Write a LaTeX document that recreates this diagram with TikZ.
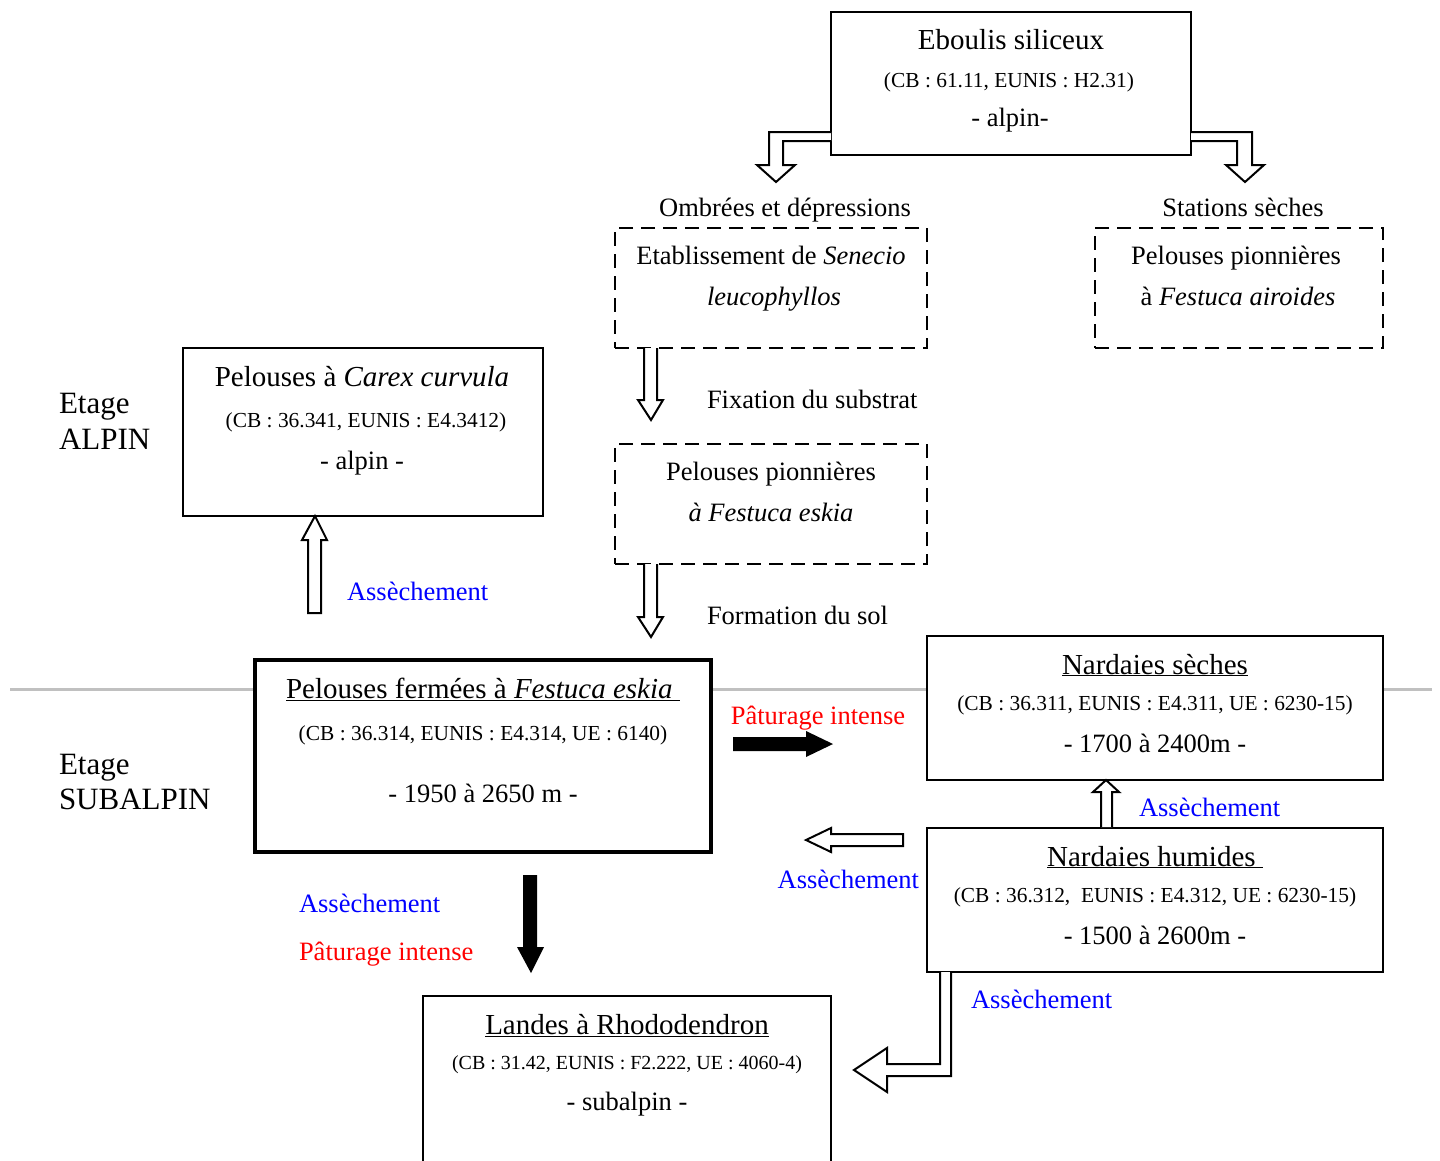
\documentclass[tikz,border=0pt]{standalone}
\usepackage{fontspec}
\setmainfont{Liberation Serif}
\newcommand{\ftitle}{\fontsize{29}{35}\selectfont}
\newcommand{\fbody}{\fontsize{26.5}{32}\selectfont}
\newcommand{\fsmall}{\fontsize{21.4}{26}\selectfont}
\newcommand{\fsmaller}{\fontsize{20}{24}\selectfont}
\newcommand{\fetage}{\fontsize{31}{37}\selectfont}
\definecolor{bleu}{RGB}{0,0,255}
\definecolor{rouge}{RGB}{255,0,0}
\definecolor{gris}{RGB}{192,192,192}
\begin{document}
\begin{tikzpicture}[x=1pt,y=-1pt,
  boxthin/.style={draw=black, line width=2pt, fill=white, inner sep=0pt, outer sep=0pt},
  boxthick/.style={draw=black, line width=4pt, fill=white, inner sep=0pt, outer sep=0pt},
  boxdash/.style={draw=black, line width=2.5pt, dash pattern=on 14pt off 8pt, inner sep=0pt, outer sep=0pt},
  txt/.style={inner sep=0pt, outer sep=0pt, anchor=base},
  hollow/.style={draw=black, line width=2pt, fill=white, line join=miter},
  solidarr/.style={fill=black, draw=none},
  lblue/.style={txt, text=bleu, font=\fbody},
  lred/.style={txt, text=rouge, font=\fbody}
]
\useasboundingbox (0,0) rectangle (1440,1160);
\clip (0,0) rectangle (1440,1160);

% grey separation line
\draw[gris, line width=3pt] (10,689) -- (1432,689);

% ---------- boxes ----------
\node[boxthin, minimum width=360pt, minimum height=143pt] (eb) at (1011,83.5) {};
\node[boxdash, minimum width=312pt, minimum height=120pt] (sen) at (771,288) {};
\node[boxdash, minimum width=288pt, minimum height=120pt] (air) at (1239,288) {};
\node[boxdash, minimum width=312pt, minimum height=120pt] (esk) at (771,504) {};
\node[boxthin, minimum width=360pt, minimum height=168pt] (car) at (363,432) {};
\node[boxthick, minimum width=456pt, minimum height=192pt] (pf) at (483,756) {};
\node[boxthin, minimum width=456pt, minimum height=144pt] (ns) at (1155,708) {};
\node[boxthin, minimum width=456pt, minimum height=144pt] (nh) at (1155,900) {};
\node[boxthin, minimum width=408pt, minimum height=200pt] (la) at (627,1096) {};

% ---------- texts in boxes ----------
\node[txt, font=\ftitle] (eb1) at (1011,49) {Eboulis siliceux};
\node[txt, font=\fsmall] (eb2) at (1009,87) {(CB : 61.11, EUNIS : H2.31)};
\node[txt, font=\fbody] (eb3) at (1010,126) {- alpin-};

\node[txt, font=\fbody] (sen1) at (771,264) {Etablissement de \textit{Senecio}};
\node[txt, font=\fbody] (sen2) at (774,305) {\textit{leucophyllos}};

\node[txt, font=\fbody] (air1) at (1236,264) {Pelouses pionnières};
\node[txt, font=\fbody] (air2) at (1238,305) {à \textit{Festuca airoides}};

\node[txt, font=\fbody] (esk1) at (771,480) {Pelouses pionnières};
\node[txt, font=\fbody] (esk2) at (771,521) {\textit{à Festuca eskia}};

\node[txt, font=\ftitle] (car1) at (362,386) {Pelouses à \textit{Carex curvula}};
\node[txt, font=\fsmall] (car2) at (366,427) {(CB : 36.341, EUNIS : E4.3412)};
\node[txt, font=\fbody] (car3) at (362,469) {- alpin -};

\node[txt, font=\ftitle] (pf1) at (483,698) {\underline{Pelouses fermées à \textit{Festuca eskia}\ }};
\node[txt, font=\fsmall] (pf2) at (483,740) {(CB : 36.314, EUNIS : E4.314, UE : 6140)};
\node[txt, font=\fbody] (pf3) at (483,802) {- 1950 à 2650 m -};

\node[txt, font=\ftitle] (ns1) at (1155,674) {\underline{Nardaies sèches}};
\node[txt, font=\fsmall] (ns2) at (1155,710) {(CB : 36.311, EUNIS : E4.311, UE : 6230-15)};
\node[txt, font=\fbody] (ns3) at (1155,752) {- 1700 à 2400m -};

\node[txt, font=\ftitle] (nh1) at (1155,866) {\underline{Nardaies humides\ }};
\node[txt, font=\fsmall] (nh2) at (1155,902) {(CB : 36.312,\ \ EUNIS : E4.312, UE : 6230-15)};
\node[txt, font=\fbody] (nh3) at (1155,944) {- 1500 à 2600m -};

\node[txt, font=\ftitle] (la1) at (627,1034) {\underline{Landes à Rhododendron}};
\node[txt, font=\fsmaller] (la2) at (627,1069) {(CB : 31.42, EUNIS : F2.222, UE : 4060-4)};
\node[txt, font=\fbody] (la3) at (627,1110) {- subalpin -};

% ---------- free labels ----------
\node[txt, font=\fbody] (omb) at (785,216) {Ombrées et dépressions};
\node[txt, font=\fbody] (sta) at (1243,216) {Stations sèches};
\node[txt, font=\fbody, anchor=base west] (fix) at (707,408) {Fixation du substrat};
\node[txt, font=\fbody, anchor=base west] (form) at (707,624) {Formation du sol};

\node[txt, font=\fetage, anchor=base west] (ea1) at (59,413) {Etage};
\node[txt, font=\fetage, anchor=base west] (ea2) at (59,449) {ALPIN};
\node[txt, font=\fetage, anchor=base west] (es1) at (59,774) {Etage};
\node[txt, font=\fetage, anchor=base west] (es2) at (59,809) {SUBALPIN};

\node[lblue, anchor=base west] (as1) at (347,600) {Assèchement};
\node[lred] (pa1) at (818,724) {Pâturage intense};
\node[lblue, anchor=base west] (as2) at (1139,816) {Assèchement};
\node[lblue, anchor=base east] (as3) at (919,888) {Assèchement};
\node[lblue, anchor=base west] (as4) at (299,912) {Assèchement};
\node[lred, anchor=base west] (pa2) at (299,960) {Pâturage intense};
\node[lblue, anchor=base west] (as5) at (971,1008) {Assèchement};

% ---------- block arrows ----------
% from Eboulis, left branch
\draw[hollow] (eb.west |- 0,132) -- (769,132) -- (769,165) -- (757,165) -- (776,182)
  -- (795,165) -- (783,165) -- (783,141) -- (eb.west |- 0,141);
% from Eboulis, right branch
\draw[hollow] (eb.east |- 0,132) -- (1252,132) -- (1252,165) -- (1264,165) -- (1245,182)
  -- (1226,165) -- (1237,165) -- (1237,141) -- (eb.east |- 0,141);
% Senecio -> Festuca eskia pionniere
\draw[hollow] (644,348) -- (644,400) -- (638,400) -- (651,420) -- (663,400) -- (657,400) -- (657,348);
% pionniere -> pelouses fermees
\draw[hollow] (644,564) -- (644,617) -- (638,617) -- (651,637) -- (663,617) -- (657,617) -- (657,564);
% pelouses fermees -> Carex (up)
\draw[hollow] (308,613) -- (308,540) -- (302,540) -- (315,516) -- (327,540) -- (321,540) -- (321,613) -- cycle;
% nardaies humides -> nardaies seches (up)
\draw[hollow] (1101,827) -- (1101,792) -- (1093,792) -- (1106,780) -- (1119,792) -- (1112,792) -- (1112,827);
% nardaies humides -> pelouses fermees (left)
\draw[hollow] (903,834) -- (831,834) -- (831,828) -- (806,840) -- (831,852) -- (831,846) -- (903,846) -- cycle;
% nardaies humides -> landes (L shape)
\draw[hollow] (940,972) -- (940,1064) -- (887,1064) -- (887,1048) -- (854,1070) -- (887,1092)
  -- (887,1076) -- (951,1076) -- (951,972);
% black arrows
\fill[solidarr] (733,737) -- (806,737) -- (806,731) -- (833,744) -- (806,757) -- (806,751) -- (733,751) -- cycle;
\fill[solidarr] (523,875) -- (537,875) -- (537,947) -- (544,947) -- (531,973) -- (517,947) -- (523,947) -- cycle;
\end{tikzpicture}
\end{document}
